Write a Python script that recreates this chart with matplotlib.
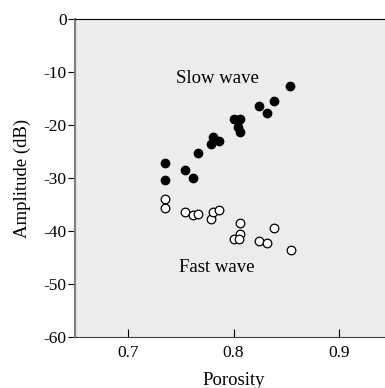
import matplotlib
matplotlib.use("Agg")
import matplotlib.pyplot as plt

slow_porosity = [0.735, 0.735, 0.754, 0.762, 0.766, 0.779, 0.781, 0.786, 0.800, 0.806, 0.804, 0.806, 0.824, 0.832, 0.838, 0.853]
slow_amp = [-27.2, -30.4, -28.5, -30.0, -25.2, -23.6, -22.2, -23.0, -18.9, -18.9, -20.4, -21.4, -16.4, -17.8, -15.5, -12.6]
fast_porosity = [0.735, 0.735, 0.754, 0.762, 0.766, 0.779, 0.781, 0.786, 0.806, 0.806, 0.800, 0.805, 0.824, 0.832, 0.838, 0.854]
fast_amp = [-34.0, -35.7, -36.5, -36.9, -36.7, -37.8, -36.5, -36.1, -38.5, -40.6, -41.6, -41.5, -41.8, -42.3, -39.5, -43.6]
xticks = [0.7, 0.8, 0.9]
yticks = [0, -10, -20, -30, -40, -50, -60]

plt.rcParams['font.family'] = ['Liberation Serif', 'DejaVu Serif']
W, H = 385, 388
fig = plt.figure(figsize=(W / 100, H / 100), dpi=100)
ax = fig.add_axes([75 / W, (H - 337) / H, 317 / W, 318 / H])
ax.set_facecolor('#ececec')

ax.plot(slow_porosity, slow_amp, 'o', ms=6, mfc='black', mec='black', ls='none')
ax.plot(fast_porosity, fast_amp, 'o', ms=6.2, mfc='white', mec='black', mew=0.9, ls='none')

ax.text(0.785, -11.3, 'Slow wave', ha='center', va='center', fontsize=13.5)
ax.text(0.784, -46.8, 'Fast wave', ha='center', va='center', fontsize=13.5)

ax.set_xlim(0.65, 0.95)
ax.set_ylim(-60, 0)
ax.set_xticks(xticks)
ax.set_xticklabels([str(v) for v in xticks])
ax.set_yticks(yticks)
ax.set_yticklabels([str(v) for v in yticks])
ax.tick_params(axis='x', direction='in', length=6, labelsize=12.5, pad=6)
ax.tick_params(axis='y', direction='out', length=5, labelsize=12.5, pad=1)
ax.set_xlabel('Porosity', fontsize=13.5, labelpad=8)
ax.set_ylabel('Amplitude (dB)', fontsize=13.5, labelpad=9)

ax.spines['right'].set_visible(False)
ax.spines['left'].set_color('#808080')
ax.spines['left'].set_linewidth(1.6)
ax.spines['bottom'].set_color('#404040')
ax.spines['top'].set_color('black')

fig.savefig('out.png', dpi=100)
